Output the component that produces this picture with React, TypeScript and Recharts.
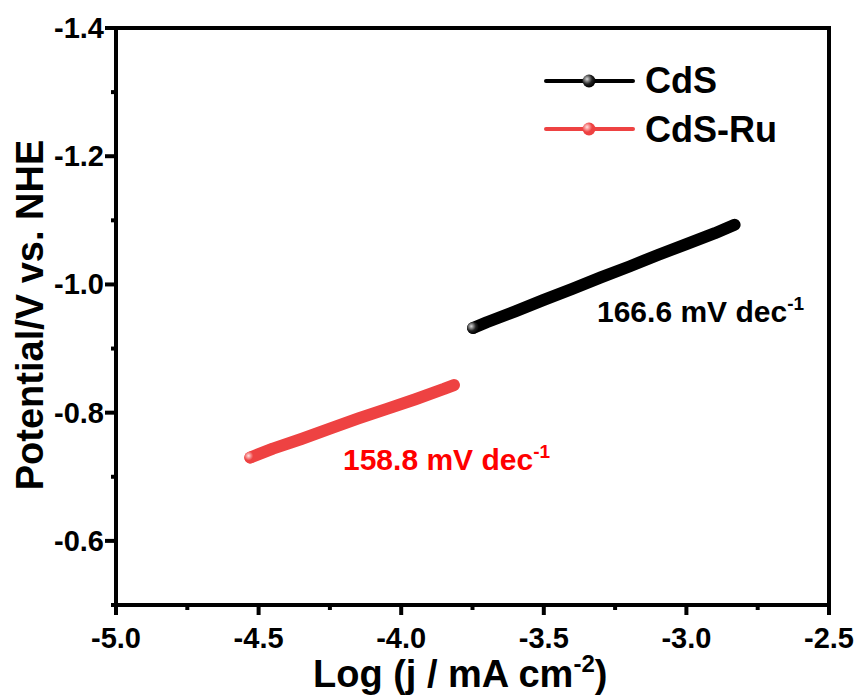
import React from "react";
import { LineChart, Line, XAxis, YAxis, ReferenceArea } from "recharts";

// ---- data ----
const cdsX = [-3.748, -3.7, -3.6, -3.5, -3.4, -3.3, -3.2, -3.1, -3.0, -2.9, -2.831];
const cdsY = [-0.932, -0.941, -0.958, -0.976, -0.993, -1.011, -1.028, -1.046, -1.063, -1.08, -1.093];
const ruX = [-4.529, -4.45, -4.35, -4.25, -4.15, -4.05, -3.95, -3.85, -3.815];
const ruY = [-0.73, -0.744, -0.759, -0.775, -0.791, -0.806, -0.821, -0.837, -0.843];

const xTicks = [-5, -4.75, -4.5, -4.25, -4, -3.75, -3.5, -3.25, -3, -2.75, -2.5];
const yTicks = [-1.4, -1.3, -1.2, -1.1, -1.0, -0.9, -0.8, -0.7, -0.6, -0.5];
const xDomain = [-5, -2.5];
const yDomain = [-1.4, -0.5];

const seriesNames = ["CdS", "CdS-Ru"];
const slopeLabels = ["166.6 mV dec", "158.8 mV dec"];

const cdsData = cdsX.map((x, i) => ({ x, y: cdsY[i] }));
const ruData = ruX.map((x, i) => ({ x, y: ruY[i] }));

const BLACK = "#000000";
const RED = "#EE4242";
const FONT = "'Liberation Sans', Arial, Helvetica, sans-serif";

const XTick = (props: any) => {
  const { x, y, payload } = props;
  const v = payload.value as number;
  const major = Math.abs(v * 2 - Math.round(v * 2)) < 1e-6;
  return (
    <g>
      <line x1={x} x2={x} y1={y} y2={y + (major ? 10 : 5)} stroke="#000" strokeWidth={4} />
      {major && (
        <text x={x} y={y + 43} textAnchor="middle" fontFamily={FONT} fontWeight="bold" fontSize={29} fill="#000">
          {v.toFixed(1)}
        </text>
      )}
    </g>
  );
};

const YTick = (props: any) => {
  const { x, y, payload } = props;
  const v = payload.value as number;
  const major = Math.round(Math.abs(v) * 10) % 2 === 0;
  return (
    <g>
      <line x1={x} x2={x - (major ? 11 : 5)} y1={y} y2={y} stroke="#000" strokeWidth={4} />
      {major && (
        <text x={x - 12} y={y + 10} textAnchor="end" fontFamily={FONT} fontWeight="bold" fontSize={29} fill="#000">
          {v.toFixed(1)}
        </text>
      )}
    </g>
  );
};

const makeDot = (gradId: string) => (props: any) => {
  const { cx, cy, index } = props;
  if (index !== 0) return <g key={`d-${gradId}-${index}`} />;
  return <circle key={`d-${gradId}-${index}`} cx={cx} cy={cy} r={6} fill={`url(#${gradId})`} />;
};

export default function App() {
  return (
    <div style={{ position: "absolute", left: 0, top: 0, width: 859, height: 697, background: "#fff" }}>
      <LineChart width={859} height={697} margin={{ top: 28, right: 30, left: 0, bottom: 0 }}>
        <defs>
          <radialGradient id="gBlack" cx="35%" cy="35%" r="65%">
            <stop offset="0%" stopColor="#d8d8d8" />
            <stop offset="60%" stopColor="#222" />
            <stop offset="100%" stopColor="#000" />
          </radialGradient>
          <radialGradient id="gRed" cx="35%" cy="35%" r="65%">
            <stop offset="0%" stopColor="#ffe0e0" />
            <stop offset="60%" stopColor={RED} />
            <stop offset="100%" stopColor={RED} />
          </radialGradient>
        </defs>
        <XAxis
          dataKey="x"
          type="number"
          domain={xDomain}
          ticks={xTicks}
          interval={0}
          height={92}
          tickSize={0}
          tickMargin={0}
          tickLine={false}
          tick={<XTick />}
          axisLine={false}
          allowDataOverflow
        />
        <YAxis
          dataKey="y"
          type="number"
          domain={yDomain}
          reversed
          ticks={yTicks}
          interval={0}
          width={116}
          tickSize={0}
          tickMargin={0}
          tickLine={false}
          tick={<YTick />}
          axisLine={false}
          allowDataOverflow
        />
        <ReferenceArea
          x1={xDomain[0]}
          x2={xDomain[1]}
          y1={yDomain[0]}
          y2={yDomain[1]}
          fill="none"
          fillOpacity={0}
          stroke="#000"
          strokeWidth={4}
          strokeOpacity={1}
          ifOverflow="visible"
        />
        <Line
          data={ruData}
          dataKey="y"
          name={seriesNames[1]}
          stroke={RED}
          strokeWidth={12}
          strokeLinecap="round"
          strokeLinejoin="round"
          dot={makeDot("gRed")}
          activeDot={false}
          isAnimationActive={false}
        />
        <Line
          data={cdsData}
          dataKey="y"
          name={seriesNames[0]}
          stroke={BLACK}
          strokeWidth={12}
          strokeLinecap="round"
          strokeLinejoin="round"
          dot={makeDot("gBlack")}
          activeDot={false}
          isAnimationActive={false}
        />
      </LineChart>
      <svg
        width={859}
        height={697}
        style={{ position: "absolute", left: 0, top: 0, pointerEvents: "none" }}
      >
        <defs>
          <radialGradient id="lgBlack" cx="35%" cy="35%" r="65%">
            <stop offset="0%" stopColor="#d8d8d8" />
            <stop offset="60%" stopColor="#222" />
            <stop offset="100%" stopColor="#000" />
          </radialGradient>
          <radialGradient id="lgRed" cx="35%" cy="35%" r="65%">
            <stop offset="0%" stopColor="#ffe0e0" />
            <stop offset="60%" stopColor={RED} />
            <stop offset="100%" stopColor={RED} />
          </radialGradient>
        </defs>
        {/* legend */}
        <line x1={546} x2={633} y1={81} y2={81} stroke={BLACK} strokeWidth={4} strokeLinecap="round" />
        <circle cx={589} cy={81} r={6.5} fill="url(#lgBlack)" />
        <text x={645} y={93} fontFamily={FONT} fontWeight="bold" fontSize={36} fill="#000">
          {seriesNames[0]}
        </text>
        <line x1={546} x2={633} y1={129} y2={129} stroke={RED} strokeWidth={4} strokeLinecap="round" />
        <circle cx={589} cy={129} r={6.5} fill="url(#lgRed)" />
        <text x={645} y={142} fontFamily={FONT} fontWeight="bold" fontSize={36} fill="#000">
          {seriesNames[1]}
        </text>
        {/* slope annotations */}
        <text x={597} y={322} fontFamily={FONT} fontWeight="bold" fontSize={30} fill="#000">
          {slopeLabels[0]}
          <tspan dy={-12} fontSize={19}>-1</tspan>
        </text>
        <text x={343} y={470} fontFamily={FONT} fontWeight="bold" fontSize={30} fill="#FF0000">
          {slopeLabels[1]}
          <tspan dy={-12} fontSize={19}>-1</tspan>
        </text>
        {/* axis titles */}
        <text x={313} y={687} fontFamily={FONT} fontWeight="bold" fontSize={38} fill="#000">
          Log (j / mA cm
          <tspan dy={-15} fontSize={24}>-2</tspan>
          <tspan dy={15}>)</tspan>
        </text>
        <text
          x={43}
          y={315}
          transform="rotate(-90, 43, 315)"
          textAnchor="middle"
          fontFamily={FONT}
          fontWeight="bold"
          fontSize={38}
          fill="#000"
        >
          Potential/V vs. NHE
        </text>
      </svg>
    </div>
  );
}
